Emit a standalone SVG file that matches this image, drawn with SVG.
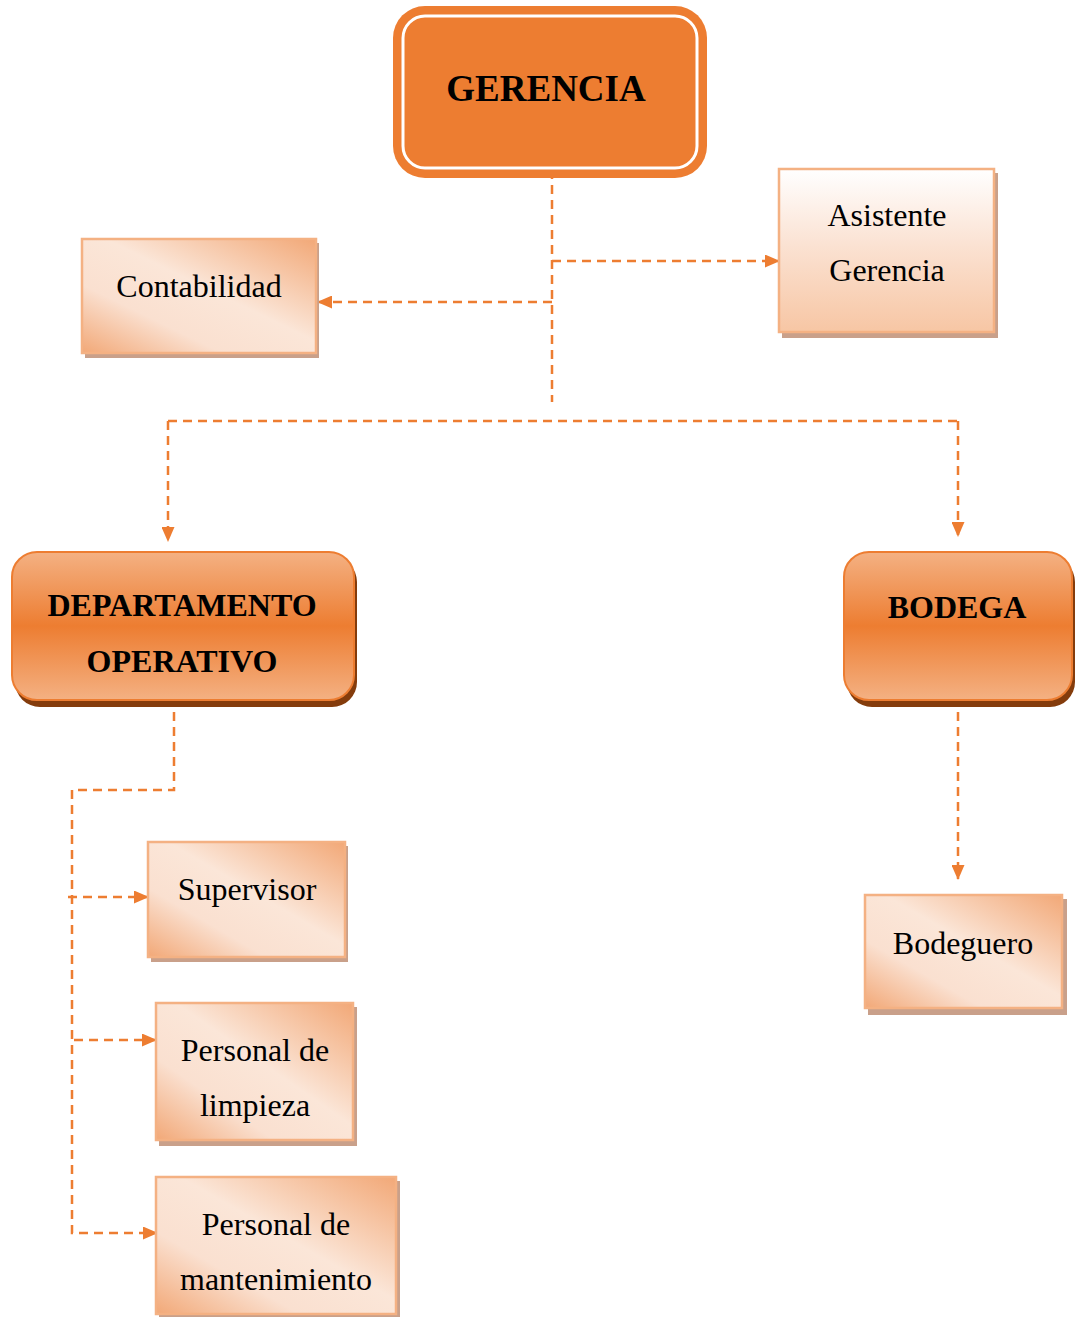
<svg xmlns="http://www.w3.org/2000/svg" width="1075" height="1317" viewBox="0 0 1075 1317">
<defs>
<linearGradient id="diag" x1="0" y1="1" x2="1" y2="0">
<stop offset="0" stop-color="#F2A877"/>
<stop offset="0.3" stop-color="#FAE0D0"/>
<stop offset="0.55" stop-color="#FBE6D8"/>
<stop offset="1" stop-color="#F2A877"/>
</linearGradient>
<linearGradient id="vert" x1="0" y1="0" x2="0" y2="1">
<stop offset="0" stop-color="#FFFFFF"/>
<stop offset="0.45" stop-color="#FBE3D4"/>
<stop offset="1" stop-color="#F7C6A4"/>
</linearGradient>
<linearGradient id="band" x1="0" y1="0" x2="0" y2="1">
<stop offset="0" stop-color="#F4B183"/>
<stop offset="0.5" stop-color="#ED7D31"/>
<stop offset="1" stop-color="#F4B183"/>
</linearGradient>
<marker id="ah" viewBox="0 0 15 13" refX="14" refY="6.5" markerWidth="15" markerHeight="13" markerUnits="userSpaceOnUse" orient="auto">
<path d="M0,0 L15,6.5 L0,13 z" fill="#ED7D31"/>
</marker>
<style>
.lt{fill:url(#diag);stroke:#F4B183;stroke-width:2.5}
.sh{fill:#C9A08A}
.dsh{fill:#843C0C}
.big{fill:url(#band);stroke:#ED7D31;stroke-width:2}
.t{font-family:"Liberation Serif",serif;font-size:32px;fill:#000;text-anchor:middle}
.b{font-family:"Liberation Serif",serif;font-weight:bold;font-size:32px;fill:#000;text-anchor:middle}
.g{font-size:37px}
.c{fill:none;stroke:#ED7D31;stroke-width:2.5;stroke-dasharray:9 6}
</style>
</defs>
<g id="connectors">
<path class="c" d="M552,170 V402"/>
<path class="c" d="M552,261 H779" marker-end="url(#ah)"/>
<path class="c" d="M552,302 H318" marker-end="url(#ah)"/>
<path class="c" d="M168,421 H958"/>
<path class="c" d="M168,421 V541" marker-end="url(#ah)"/>
<path class="c" d="M958,421 V536" marker-end="url(#ah)"/>
<path class="c" d="M174,712 V790 H72 V1233 H157" marker-end="url(#ah)"/>
<path class="c" d="M68,897 H148" marker-end="url(#ah)"/>
<path class="c" d="M74,1040 H156" marker-end="url(#ah)"/>
<path class="c" d="M958,712 V879" marker-end="url(#ah)"/>
</g>
<g id="gerencia">
<rect x="393" y="6" width="314" height="172" rx="32" fill="#ED7D31"/>
<rect x="403" y="16" width="294" height="152" rx="22" fill="#ED7D31" stroke="#FFFFFF" stroke-width="3"/>
<text class="b g" x="546" y="101">GERENCIA</text>
</g>
<g id="contabilidad">
<rect class="sh" x="85" y="243" width="234" height="115"/>
<rect class="lt" x="82" y="239" width="234" height="114"/>
<text class="t" x="199" y="297">Contabilidad</text>
</g>
<g id="asistente">
<rect class="sh" x="782" y="173" width="216" height="165"/>
<rect x="779" y="169" width="215" height="163" fill="url(#vert)" stroke="#F4B183" stroke-width="2.5"/>
<text class="t" x="887" y="226">Asistente</text>
<text class="t" x="887" y="281">Gerencia</text>
</g>
<g id="departamento">
<rect class="dsh" x="15" y="557" width="342" height="150" rx="25"/>
<rect class="big" x="12" y="552" width="342" height="148" rx="25"/>
<text class="b" x="182" y="616">DEPARTAMENTO</text>
<text class="b" x="182" y="672">OPERATIVO</text>
</g>
<g id="bodega">
<rect class="dsh" x="847" y="557" width="228" height="150" rx="25"/>
<rect class="big" x="844" y="552" width="228" height="148" rx="25"/>
<text class="b" x="957" y="618">BODEGA</text>
</g>
<g id="supervisor">
<rect class="sh" x="151" y="846" width="197" height="116"/>
<rect class="lt" x="148" y="842" width="197" height="115"/>
<text class="t" x="247" y="900">Supervisor</text>
</g>
<g id="limpieza">
<rect class="sh" x="159" y="1007" width="198" height="139"/>
<rect class="lt" x="156" y="1003" width="197" height="137"/>
<text class="t" x="255" y="1061">Personal de</text>
<text class="t" x="255" y="1116">limpieza</text>
</g>
<g id="mantenimiento">
<rect class="sh" x="159" y="1181" width="241" height="137"/>
<rect class="lt" x="156" y="1177" width="240" height="137"/>
<text class="t" x="276" y="1235">Personal de</text>
<text class="t" x="276" y="1290">mantenimiento</text>
</g>
<g id="bodeguero">
<rect class="sh" x="868" y="899" width="199" height="116"/>
<rect class="lt" x="865" y="895" width="197" height="113"/>
<text class="t" x="963" y="954">Bodeguero</text>
</g>
</svg>
